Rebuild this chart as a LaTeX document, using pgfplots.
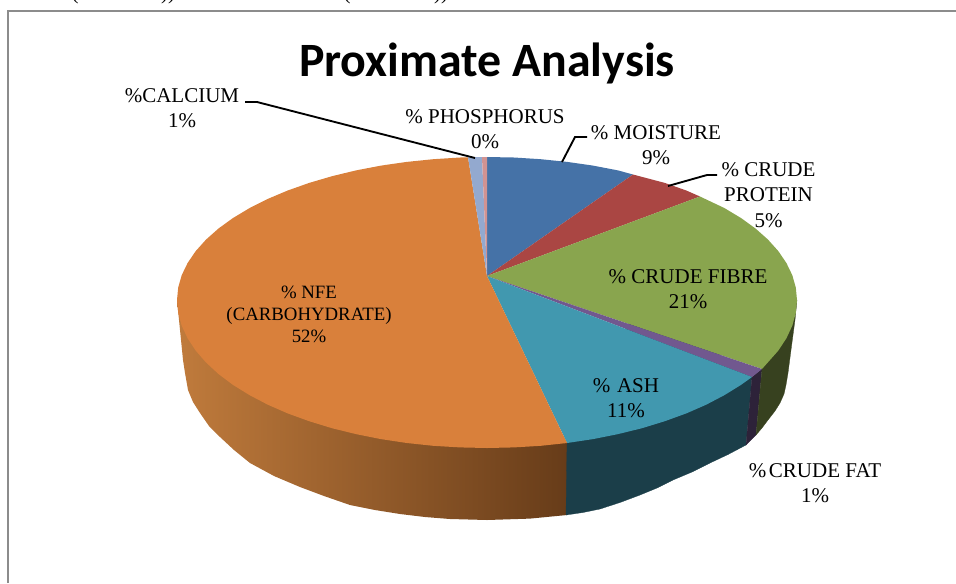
\documentclass[border=0pt]{standalone}
\usepackage{pgfplots}
\pgfplotsset{compat=1.18}
\usepackage{fontspec}
\setmainfont{Liberation Serif}
\newfontfamily\titlefont{Carlito}
\definecolor{cblue}{HTML}{4572A7}
\definecolor{cred}{HTML}{AA4643}
\definecolor{cgreen}{HTML}{89A54E}
\definecolor{cpurple}{HTML}{71588F}
\definecolor{cash}{HTML}{4198AF}
\definecolor{corange}{HTML}{D9803B}
\definecolor{ccal}{HTML}{93A9CF}
\definecolor{cpho}{HTML}{D19392}
\definecolor{wgreen}{HTML}{37411F}
\definecolor{wpurple}{HTML}{2D2239}
\definecolor{wash}{HTML}{1B3E49}
\definecolor{worangeL}{HTML}{C07B3C}
\definecolor{worangeR}{HTML}{673C19}
\definecolor{cframe}{HTML}{8C8C8C}
\tikzset{
  lab/.style={font=\fontsize{15.75}{19}\selectfont,align=center,inner sep=0pt,text=black},
  lead/.style={black,line width=1.4pt},
}
\begin{document}
\begin{tikzpicture}[x=1pt,y=1pt]
\useasboundingbox (0,0) rectangle (717,437.25);
\clip (0,0) rectangle (717,437.25);
\begin{axis}[
  at={(0,0)},anchor=south west,
  scale only axis,width=717pt,height=437.25pt,
  xmin=0,xmax=956,ymin=0,ymax=583,y dir=reverse,
  axis lines=none,clip=false,
]
% side walls
\addplot[left color=worangeL,right color=worangeR,draw=none] coordinates {
 (177,300)(179,320)(181,340)(183,360)(185,373)(188,390)(193,402)(200,413)(209,426)(220,437)(234,450)(250,463)(274,476)(300,487)(324,496)(350,505)(375,510)(400,514)(425,517)(450,519)(487,520)(530,518.6)(567,515)(567,443)(487,300)} --cycle;
\addplot[fill=wash,draw=wash,line width=0.2pt] coordinates {
 (567,443)(566,515)(583,512.5)(600,509)(620,502.5)(640,495)(657,488)(673,480)(692,472)(710,463)(728,454.5)(746,445)(752,377)(640,300)} --cycle;
\addplot[fill=wpurple,draw=wpurple,line width=0.2pt] coordinates {
 (752,377)(746,445)(756,435)(762,369)} --cycle;
\addplot[fill=wgreen,draw=wgreen,line width=0.2pt] coordinates {
 (762,369)(756,435)(762,428)(768,420)(775,411)(780,403)(784,394)(786,385)(788,373)(791,350)(795,320)(797,300)(700,300)} --cycle;
% top face
\addplot[fill=cblue,draw=none] coordinates {(487,276)(487,157)(514,157.5)(540.8,159.2)(567.2,161.9)(593,165.6)(618,170.4)(633,174.5)} --cycle;
\addplot[fill=cred,draw=none] coordinates {(487,276)(633,174.5)(664.8,182.9)(686.3,190.5)(700,196.5)} --cycle;
\addplot[fill=cgreen,draw=none] coordinates {(487,276)(700,196.5)(724.5,208.1)(741,218)(755.5,228.5)(768,239.6)(778.3,251.1)(786.4,263)(792.3,275.2)(795.8,287.5)(797,300)(795.8,312.9)(792.3,325.7)(786.4,338.3)(778.3,350.6)(762,369)} --cycle;
\addplot[fill=cpurple,draw=none] coordinates {(487,276)(762,369)(752,377)} --cycle;
\addplot[fill=cash,draw=none] coordinates {(487,276)(752,377)(741,384.9)(724.5,395.1)(706.2,404.7)(686.3,413.4)(664.8,421.2)(642,428.2)(618,434.1)(593,439.1)(567,443)} --cycle;
\addplot[fill=corange,draw=none] coordinates {(487,276)(567,443)(540.8,445.8)(514,447.4)(487,448)(460,447.4)(433.2,445.8)(406.8,443)(381,439.1)(356,434.1)(332,428.2)(309.2,421.2)(287.7,413.4)(267.8,404.7)(249.5,395.1)(233,384.9)(218.5,374)(206,362.5)(195.7,350.6)(187.6,338.3)(181.7,325.7)(178.2,312.9)(177,300)(178.2,287.5)(181.7,275.2)(187.6,263)(195.7,251.1)(206,239.6)(218.5,228.5)(233,218)(249.5,208.1)(267.8,198.9)(287.7,190.5)(309.2,182.9)(332,176.2)(356,170.4)(381,165.6)(406.8,161.9)(433.2,159.2)(460,157.5)(468,157.3)} --cycle;
\addplot[fill=ccal,draw=none] coordinates {(487,276)(468,157.3)(482,157)} --cycle;
\addplot[fill=cpho,draw=none] coordinates {(487,276)(482,157)(487,157)} --cycle;
% frame
\draw[cframe,line width=1.5pt] (7.5,583) -- (7.5,11) -- (956,11);
% cropped line of the page above
\node[lab,anchor=base] at (75,-1) {(};
\node[lab,anchor=base] at (168,-1) {))};
\node[lab,anchor=base] at (347,-1) {(};
\node[lab,anchor=base] at (441,-1) {))};
% title
\node[inner sep=0pt,font=\titlefont\bfseries\fontsize{35.9}{40}\selectfont] at (487,63.5) {Proximate Analysis};
% leaders
\draw[lead] (245,102) -- (257,102) -- (475,158);
\draw[lead] (562,162) -- (575,137) -- (587,137);
\draw[lead] (668,186) -- (707,175) -- (717,175);
% labels
\node[lab] at (182,108) {\%CALCIUM\\1\%};
\node[lab] at (485,129) {\% PHOSPHORUS\\0\%};
\node[lab] at (656,145) {\% MOISTURE\\9\%};
\node[lab] at (768.5,195) {\% CRUDE\\PROTEIN\\5\%};
\node[lab] at (688,289) {\% CRUDE FIBRE\\21\%};
\node[lab] at (626,398) {\%\kern1pt\ ASH\\11\%};
\node[lab] at (815,483) {\%\kern2pt CRUDE FAT\\1\%};
\node[lab,font=\fontsize{14.1}{16.5}\selectfont] at (309,314) {\% NFE\\(CARBOHYDRATE)\\52\%};
\end{axis}
\end{tikzpicture}
\end{document}
